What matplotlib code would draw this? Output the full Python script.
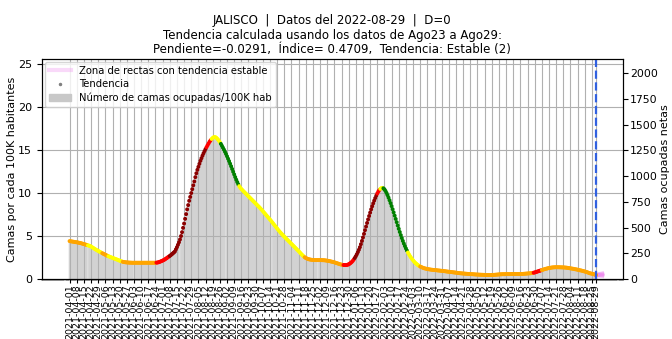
import numpy as np
import pandas as pd
import matplotlib
matplotlib.use("Agg")
import matplotlib.pyplot as plt
import matplotlib.dates as mdates
from matplotlib.lines import Line2D
from matplotlib.patches import Patch

plt.rcParams['font.family'] = ['DejaVu Sans']

# ---------------- data ----------------
start_date = "2021-04-01"
end_date = "2022-08-29"

beds_per_100k = [
    4.41, 4.39, 4.37, 4.35, 4.33, 4.31, 4.29, 4.27, 4.25, 4.22,
    4.20, 4.17, 4.13, 4.10, 4.06, 4.03, 3.99, 3.95, 3.91, 3.88,
    3.85, 3.77, 3.70, 3.62, 3.55, 3.47, 3.40, 3.33, 3.27, 3.20,
    3.13, 3.07, 3.00, 2.94, 2.88, 2.82, 2.76, 2.70, 2.65, 2.60,
    2.55, 2.50, 2.46, 2.41, 2.37, 2.32, 2.28, 2.23, 2.18, 2.13,
    2.09, 2.05, 2.00, 1.98, 1.96, 1.94, 1.93, 1.92, 1.91, 1.90,
    1.90, 1.89, 1.89, 1.89, 1.89, 1.89, 1.89, 1.89, 1.89, 1.89,
    1.89, 1.89, 1.89, 1.89, 1.89, 1.89, 1.89, 1.89, 1.89, 1.89,
    1.89, 1.89, 1.89, 1.89, 1.89, 1.90, 1.92, 1.95, 1.99, 2.04,
    2.09, 2.14, 2.20, 2.27, 2.35, 2.43, 2.52, 2.60, 2.68, 2.78,
    2.88, 2.98, 3.09, 3.20, 3.45, 3.70, 3.98, 4.27, 4.60, 5.00,
    5.45, 5.95, 6.45, 7.00, 7.55, 8.10, 8.60, 9.10, 9.55, 10.00,
    10.45, 10.90, 11.35, 11.85, 12.30, 12.70, 13.05, 13.40, 13.75, 14.05,
    14.35, 14.62, 14.88, 15.12, 15.35, 15.57, 15.78, 15.98, 16.15, 16.30,
    16.42, 16.50, 16.52, 16.48, 16.38, 16.25, 16.10, 15.92, 15.72, 15.50,
    15.28, 15.05, 14.80, 14.55, 14.28, 14.00, 13.72, 13.42, 13.12, 12.80,
    12.48, 12.17, 11.86, 11.56, 11.28, 11.02, 10.80, 10.62, 10.47, 10.35,
    10.22, 10.10, 9.98, 9.86, 9.74, 9.62, 9.50, 9.38, 9.26, 9.14,
    9.02, 8.90, 8.78, 8.66, 8.54, 8.42, 8.30, 8.17, 8.04, 7.90,
    7.76, 7.62, 7.48, 7.34, 7.20, 7.06, 6.92, 6.78, 6.63, 6.48,
    6.33, 6.18, 6.03, 5.88, 5.73, 5.58, 5.44, 5.31, 5.18, 5.05,
    4.93, 4.81, 4.69, 4.57, 4.45, 4.33, 4.21, 4.09, 3.97, 3.85,
    3.73, 3.61, 3.49, 3.37, 3.25, 3.12, 2.99, 2.86, 2.74, 2.63,
    2.53, 2.45, 2.39, 2.34, 2.30, 2.27, 2.25, 2.23, 2.22, 2.21,
    2.20, 2.20, 2.20, 2.20, 2.20, 2.20, 2.20, 2.19, 2.19, 2.18,
    2.17, 2.15, 2.13, 2.11, 2.09, 2.06, 2.03, 2.00, 1.97, 1.94,
    1.90, 1.86, 1.82, 1.78, 1.74, 1.70, 1.67, 1.65, 1.63, 1.62,
    1.62, 1.63, 1.66, 1.71, 1.78, 1.87, 1.98, 2.11, 2.27, 2.45,
    2.65, 2.88, 3.13, 3.40, 3.70, 4.05, 4.43, 4.83, 5.25, 5.68,
    6.10, 6.52, 6.93, 7.33, 7.72, 8.10, 8.46, 8.80, 9.12, 9.42,
    9.70, 9.95, 10.17, 10.35, 10.49, 10.58, 10.60, 10.55, 10.43, 10.25,
    10.02, 9.76, 9.47, 9.16, 8.83, 8.48, 8.12, 7.75, 7.37, 6.99,
    6.61, 6.22, 5.84, 5.47, 5.11, 4.76, 4.43, 4.12, 3.83, 3.56,
    3.31, 3.08, 2.87, 2.67, 2.49, 2.32, 2.17, 2.03, 1.90, 1.79,
    1.69, 1.60, 1.52, 1.45, 1.39, 1.34, 1.29, 1.25, 1.22, 1.19,
    1.16, 1.14, 1.12, 1.10, 1.08, 1.07, 1.05, 1.04, 1.03, 1.02,
    1.00, 0.99, 0.98, 0.96, 0.95, 0.94, 0.92, 0.91, 0.89, 0.87,
    0.86, 0.84, 0.83, 0.81, 0.80, 0.78, 0.77, 0.75, 0.74, 0.72,
    0.70, 0.69, 0.67, 0.66, 0.65, 0.64, 0.63, 0.62, 0.61, 0.60,
    0.59, 0.58, 0.57, 0.56, 0.56, 0.55, 0.54, 0.53, 0.52, 0.52,
    0.51, 0.50, 0.50, 0.49, 0.49, 0.48, 0.48, 0.47, 0.47, 0.47,
    0.46, 0.46, 0.46, 0.47, 0.47, 0.48, 0.49, 0.50, 0.51, 0.52,
    0.53, 0.54, 0.55, 0.55, 0.56, 0.56, 0.56, 0.57, 0.57, 0.57,
    0.57, 0.57, 0.58, 0.58, 0.58, 0.58, 0.58, 0.58, 0.58, 0.58,
    0.58, 0.58, 0.59, 0.59, 0.60, 0.61, 0.62, 0.63, 0.64, 0.65,
    0.66, 0.67, 0.69, 0.71, 0.73, 0.76, 0.80, 0.84, 0.88, 0.92,
    0.96, 1.00, 1.04, 1.08, 1.12, 1.16, 1.19, 1.22, 1.25, 1.28,
    1.30, 1.32, 1.34, 1.35, 1.36, 1.37, 1.37, 1.37, 1.37, 1.37,
    1.36, 1.36, 1.35, 1.35, 1.34, 1.33, 1.32, 1.30, 1.28, 1.26,
    1.24, 1.22, 1.20, 1.18, 1.15, 1.13, 1.11, 1.08, 1.05, 1.02,
    1.00, 0.97, 0.94, 0.91, 0.87, 0.84, 0.80, 0.76, 0.71, 0.67,
    0.64, 0.61, 0.58, 0.55, 0.51, 0.47,
]

# trend category segments (start date of each run, colour of the run)
trend_seg_start = ["2021-04-01", "2021-04-19", "2021-05-03", "2021-05-09", "2021-05-23",
                   "2021-06-25", "2021-07-08", "2021-08-13", "2021-08-18", "2021-08-27",
                   "2021-09-14", "2021-11-17", "2021-12-25", "2022-01-05", "2022-01-27",
                   "2022-01-30", "2022-02-02", "2022-02-26", "2022-03-10", "2022-06-29",
                   "2022-07-07"]
trend_seg_color = ["orange", "yellow", "orange", "yellow", "orange",
                   "red", "darkred", "red", "yellow", "green",
                   "yellow", "orange", "red", "darkred", "red",
                   "yellow", "green", "yellow", "orange", "red",
                   "orange"]

stable_slopes = [-0.02, -0.01, 0.0, 0.01, 0.02, 0.03]
stable_days = 6
beds_per_unit = 83.6   # camas netas por (cama/100K hab)

title = ("JALISCO  |  Datos del 2022-08-29  |  D=0\n"
         "Tendencia calculada usando los datos de Ago23 a Ago29:\n"
         "Pendiente=-0.0291,  Índice= 0.4709,  Tendencia: Estable (2)")

# ---------------- plot ----------------
dates = pd.date_range(start_date, end_date, freq="D")
vals = np.array(beds_per_100k)

seg_starts = pd.to_datetime(trend_seg_start)
idx = np.searchsorted(seg_starts.values, dates.values, side="right") - 1
colors = [trend_seg_color[i] for i in idx]

fig = plt.figure(figsize=(6.72, 3.39), dpi=100)
ax = fig.add_axes([0.0625, 0.177, 0.864, 0.649])

ax.bar(dates, vals, width=1.0, color="#e4e4e4", edgecolor="#c4c4c4",
       linewidth=0.3, zorder=1)
ax.scatter(dates, vals, c=colors, s=8, zorder=3, linewidths=0)

# stable-trend fan
x0 = dates[-1]
x1 = x0 + pd.Timedelta(days=stable_days)
for s in stable_slopes:
    ax.plot([x0, x1], [vals[-1], vals[-1] + s * stable_days],
            color="violet", alpha=0.3, lw=3, zorder=2)

ax.axvline(dates[-1], color="#3060e0", ls="--", lw=1.6, zorder=4)

ax.set_xlim(pd.Timestamp("2021-03-05"), pd.Timestamp("2022-09-24"))
ax.set_ylim(0, 25.6)
ax.set_yticks([0, 5, 10, 15, 20, 25])

major = list(pd.date_range(start_date, end_date, freq="7D"))
major.append(pd.Timestamp(end_date))
ax.set_xticks(major)
ax.set_xticklabels([d.strftime("%Y-%m-%d") for d in major], rotation=90, fontsize=6.8)
ax.xaxis.set_minor_locator(mdates.DayLocator())
ax.tick_params(axis="x", which="minor", length=1.5, width=0.3)
ax.tick_params(axis="x", which="major", length=3, pad=1)
ax.tick_params(axis="y", labelsize=8)

ax.grid(True, which="major", color="#b0b0b0", lw=0.8)
ax.set_ylabel("Camas por cada 100K habitantes", fontsize=8, labelpad=1)

ax2 = ax.twinx()
ax2.set_ylim(0, 25.6 * beds_per_unit)
ax2.set_yticks(np.arange(0, 2001, 250))
ax2.tick_params(axis="y", labelsize=7.8, pad=2)
ax2.set_ylabel("Camas ocupadas netas", fontsize=8, labelpad=1)

ax.set_title(title, fontsize=8.5, linespacing=1.15, pad=4)

handles = [Line2D([], [], color="violet", alpha=0.3, lw=3),
           Line2D([], [], marker=".", ls="none", color="gray", markersize=3),
           Patch(color="#c8c8c8")]
labels = ["Zona de rectas con tendencia estable", "Tendencia",
          "Número de camas ocupadas/100K hab"]
ax2.legend(handles, labels, loc="upper left", fontsize=7.2, handlelength=2.2,
           borderaxespad=0.3, labelspacing=0.35)

fig.savefig("out.png", dpi=100)
